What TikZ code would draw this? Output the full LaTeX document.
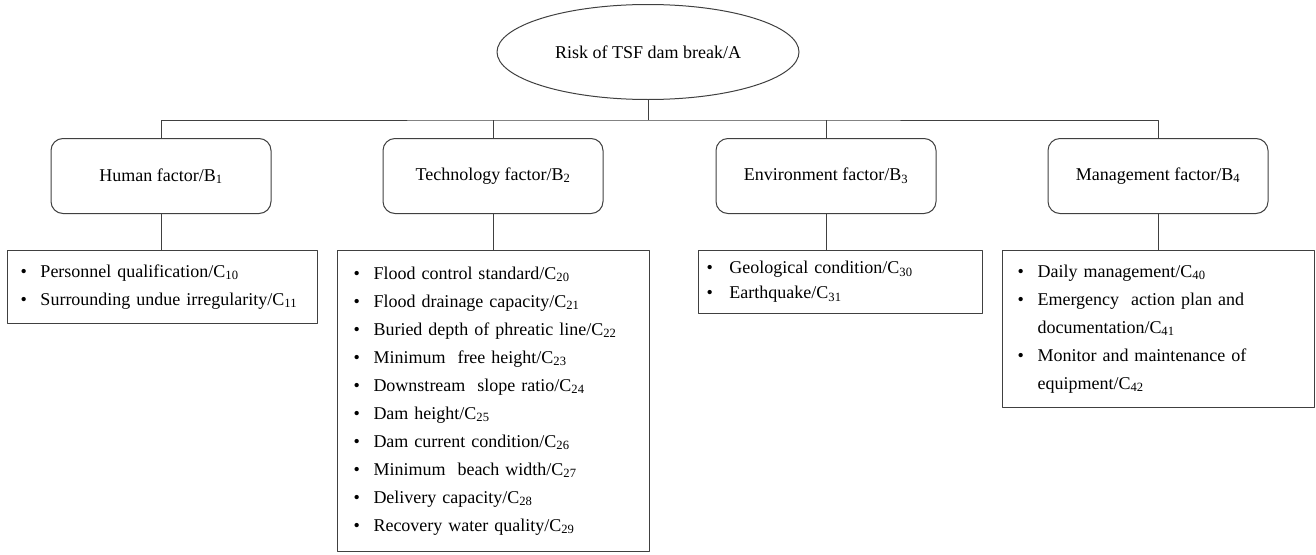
\documentclass[tikz,border=0pt]{standalone}
\usepackage{fontspec}
\setmainfont{Liberation Serif}
\usetikzlibrary{shapes.geometric}

% bullet with fixed room before the item text
\newcommand{\bul}[1][20pt]{\makebox[#1][l]{\textbullet}}

\begin{document}
\begin{tikzpicture}[x=1pt, y=-1pt, line width=1pt, line join=round,
    every node/.style={font=\fontsize{18}{28}\selectfont},
    goal/.style={draw=black!75, ellipse, minimum width=302pt, minimum height=95pt, inner sep=0pt},
    factor/.style={draw=black!75, rounded corners=12pt, minimum width=220pt, minimum height=75pt},
    itembox/.style={draw=black!75, anchor=north west, align=left, inner ysep=0pt}]
    \useasboundingbox (0,0) rectangle (1316,554);

    % --- TOP GOAL ---
    \node[goal] (A) at (648,52) {Risk of TSF dam break/A};

    % --- FACTORS ---
    \node[factor] (B1) at (161,176) {Human factor/B\textsubscript{1}};
    \node[factor] (B2) at (493,176) {Technology factor/B\textsubscript{2}};
    \node[factor] (B3) at (826,176) {Environment factor/B\textsubscript{3}};
    \node[factor] (B4) at (1158,176) {Management factor/B\textsubscript{4}};

    % --- INDICATOR LISTS ---
    \node[itembox, inner xsep=13pt, text width=284pt, minimum height=73pt] (C1) at (7,250)
        {\bul Personnel qualification/C\textsubscript{10}\\
         \bul Surrounding undue irregularity/C\textsubscript{11}};
    \node[itembox, inner xsep=16pt, text width=280pt, minimum height=301pt] (C2) at (337,250)
        {\bul Flood control standard/C\textsubscript{20}\\
         \bul Flood drainage capacity/C\textsubscript{21}\\
         \bul Buried depth of phreatic line/C\textsubscript{22}\\
         \bul Minimum\ \ free height/C\textsubscript{23}\\
         \bul Downstream\ \ slope ratio/C\textsubscript{24}\\
         \bul Dam height/C\textsubscript{25}\\
         \bul Dam current condition/C\textsubscript{26}\\
         \bul Minimum\ \ beach width/C\textsubscript{27}\\
         \bul Delivery capacity/C\textsubscript{28}\\
         \bul Recovery water quality/C\textsubscript{29}};
    \node[itembox, inner xsep=8pt, text width=268pt, minimum height=63pt,
          font=\fontsize{18}{25}\selectfont] (C3) at (698,250)
        {\bul[17pt] Geological condition/C\textsubscript{30}\\
         \bul[17pt] Earthquake/C\textsubscript{31}};
    \node[itembox, inner xsep=15pt, text width=282pt, minimum height=157pt] (C4) at (1002,250)
        {\bul Daily management/C\textsubscript{40}\\
         \bul Emergency\ \ action plan and\\
         \hspace*{20pt}documentation/C\textsubscript{41}\\
         \bul Monitor and maintenance of\\
         \hspace*{20pt}equipment/C\textsubscript{42}};

    % --- CONNECTORS ---
    \coordinate (bus) at (648,120);
    \draw[black!75] (A.south) -- (bus);
    \draw[black!75] (B1.north) |- (bus) -| (B4.north);
    \draw[black!75] (B2.north) -- (B2.north |- bus);
    \draw[black!75] (B3.north) -- (B3.north |- bus);

    \draw[black!75] (B1.south) -- (B1.south |- C1.north);
    \draw[black!75] (B2.south) -- (B2.south |- C2.north);
    \draw[black!75] (B3.south) -- (B3.south |- C3.north);
    \draw[black!75] (B4.south) -- (B4.south |- C4.north);

\end{tikzpicture}
\end{document}
